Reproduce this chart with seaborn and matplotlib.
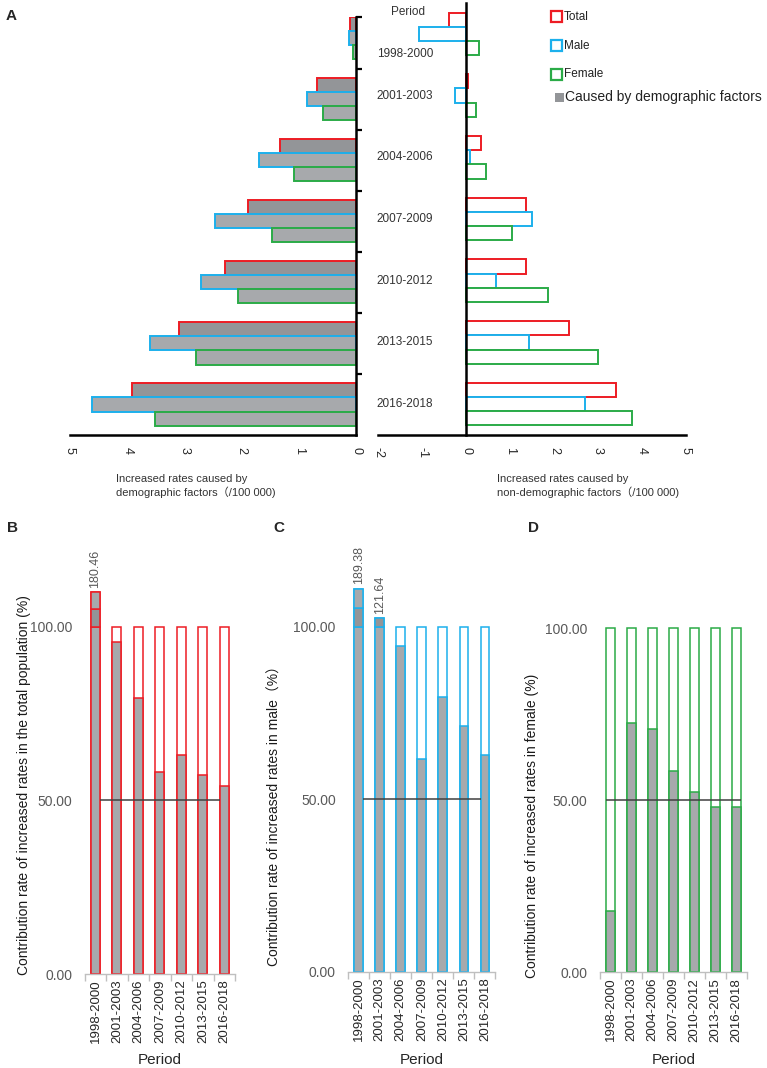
import numpy as np
import pandas as pd
import matplotlib
matplotlib.use('Agg')
import matplotlib.pyplot as plt
import seaborn as sns
from matplotlib.patches import Rectangle

# ---- data ----
periods = ['1998-2000', '2001-2003', '2004-2006', '2007-2009',
           '2010-2012', '2013-2015', '2016-2018']
groups = ['Total', 'Male', 'Female']

# increased rates caused by demographic factors (/100 000)
demo_total = [0.10, 0.69, 1.33, 1.88, 2.29, 3.09, 3.92]
demo_male = [0.13, 0.86, 1.69, 2.46, 2.71, 3.61, 4.61]
demo_female = [0.06, 0.58, 1.08, 1.46, 2.06, 2.80, 3.52]

# increased rates caused by non-demographic factors (/100 000)
nondemo_total = [-0.38, 0.05, 0.35, 1.36, 1.36, 2.35, 3.41]
nondemo_male = [-1.06, -0.24, 0.09, 1.51, 0.68, 1.44, 2.71]
nondemo_female = [0.29, 0.23, 0.45, 1.05, 1.86, 2.99, 3.77]

# contribution rate of demographic factors (%)
contrib_total = [180.46, 95.6, 79.4, 58.3, 63.1, 57.2, 54.1]
contrib_male = [189.38, 121.64, 94.4, 61.8, 79.7, 71.2, 62.9]
contrib_female = [17.9, 72.5, 70.7, 58.6, 52.3, 48.1, 48.1]

# ---- style ----
RED = '#ed1c24'
BLUE = '#1cb0ec'
GREEN = '#2bab47'
DARK_FILL = '#939598'
LIGHT_FILL = '#a7a9ac'
edge_cols = [RED, BLUE, GREEN]

sns.set_theme(style='white')
plt.rcParams['font.family'] = ['Liberation Sans', 'Noto Sans CJK SC', 'DejaVu Sans']
plt.rcParams['axes.unicode_minus'] = False

W, H = 767, 1068
fig = plt.figure(figsize=(W / 100, H / 100), dpi=100)


def px_axes(left, top, right, bottom):
    return fig.add_axes([left / W, 1 - bottom / H, (right - left) / W, (bottom - top) / H])


def long_frame(total, male, female):
    return pd.DataFrame({
        'period': periods * 3,
        'group': np.repeat(groups, len(periods)),
        'value': total + male + female,
    })


def style_edges(ax, lw):
    for cont, col in zip(ax.containers, edge_cols):
        for bar in cont:
            bar.set_edgecolor(col)
            bar.set_linewidth(lw)


# ================= panel A, left: demographic =================
ax_l = px_axes(70, 17, 356, 435)
sns.barplot(data=long_frame(demo_total, demo_male, demo_female),
            x='value', y='period', hue='group', hue_order=groups, order=periods,
            orient='h', width=0.69, saturation=1, errorbar=None, legend=False,
            palette={'Total': DARK_FILL, 'Male': LIGHT_FILL, 'Female': LIGHT_FILL},
            ax=ax_l)
style_edges(ax_l, 1.4)
ax_l.set_xlim(5, 0)
ax_l.set_ylim(6.5, -0.35)
for s in ['left', 'top']:
    ax_l.spines[s].set_visible(False)
for s in ['right', 'bottom']:
    ax_l.spines[s].set_linewidth(1.8)
    ax_l.spines[s].set_color('black')
ax_l.yaxis.tick_right()
ax_l.set_yticks([-0.35] + list(np.arange(len(periods) - 1) + 0.5))
ax_l.set_yticklabels([])
ax_l.tick_params(axis='y', direction='out', length=4, width=1.6, color='black')
ax_l.set_xticks(range(0, 6))
ax_l.tick_params(axis='x', direction='out', length=4, width=1.5, color='black',
                 labelsize=9, labelrotation=270, pad=5)
ax_l.set_xlabel('')
ax_l.set_ylabel('')

# ================= panel A, right: non-demographic =================
ax_r = px_axes(378, 3, 686, 435)
sns.barplot(data=long_frame(nondemo_total, nondemo_male, nondemo_female),
            x='value', y='period', hue='group', hue_order=groups, order=periods,
            orient='h', width=0.69, saturation=1, errorbar=None, legend=False,
            palette={'Total': 'white', 'Male': 'white', 'Female': 'white'},
            ax=ax_r)
style_edges(ax_r, 1.4)
ax_r.set_xlim(-2, 5)
ax_r.set_ylim(6.5, -0.5)
for s in ['right', 'top']:
    ax_r.spines[s].set_visible(False)
ax_r.spines['left'].set_position(('data', 0))
for s in ['left', 'bottom']:
    ax_r.spines[s].set_linewidth(1.8)
    ax_r.spines[s].set_color('black')
ax_r.set_yticks([-0.5] + list(np.arange(len(periods) - 1) + 0.5))
ax_r.set_yticklabels([])
ax_r.tick_params(axis='y', direction='out', length=4, width=1.6, color='black')
ax_r.set_xticks(range(-2, 6))
ax_r.tick_params(axis='x', direction='out', length=4, width=1.5, color='black',
                 labelsize=9, labelrotation=270, pad=5)
ax_r.set_xlabel('')
ax_r.set_ylabel('')

label_pos = np.arange(len(periods)).astype(float)
label_pos[0] += 0.32
for p, y in zip(periods, label_pos):
    ax_r.annotate(p, xy=(0, y), xytext=(-23.5, 0), textcoords='offset points',
                  ha='right', va='center', fontsize=8.5, color='#333333',
                  annotation_clip=False)
ax_r.annotate('Period', xy=(0, -0.36), xytext=(-42, 0), textcoords='offset points',
              ha='center', va='center', fontsize=8.5, color='#333333',
              annotation_clip=False)

# axis titles of panel A
fig.text(116 / W, 1 - 474 / H, 'Increased rates caused by\ndemographic factors（/100 000)',
         ha='left', va='top', fontsize=8, linespacing=1.25, color='#333333')
fig.text(497 / W, 1 - 474 / H, 'Increased rates caused by\nnon-demographic factors（/100 000)',
         ha='left', va='top', fontsize=8, linespacing=1.25, color='#333333')

# legend of panel A
legend_rows = [16.7, 45.7, 74.0]
for lab, col, yc in zip(groups, edge_cols, legend_rows):
    fig.add_artist(Rectangle((551 / W, 1 - (yc + 5.5) / H), 11 / W, 11 / H,
                             transform=fig.transFigure, facecolor='white',
                             edgecolor=col, linewidth=1.6))
    fig.text(564 / W, 1 - yc / H, lab, ha='left', va='center', fontsize=8.5, color='#222222')
fig.add_artist(Rectangle((555 / W, 1 - 102 / H), 8.5 / W, 9 / H,
                         transform=fig.transFigure, facecolor=DARK_FILL, edgecolor='none'))
fig.text(565 / W, 1 - 97.3 / H, 'Caused by demographic factors', ha='left', va='center',
         fontsize=10, color='#222222')

fig.text(6 / W, 1 - 15.5 / H, 'A', ha='left', va='center', fontsize=11, fontweight='bold')

# ================= panels B, C, D: contribution rates =================
BAR_W = 0.42
COMPRESS = 0.125   # scale of the broken part of the axis above 100


def contrib_panel(box, values, edge, ylabel, label_x, label_bottom, line_span, letter_x):
    left, right, bottom, p100 = box
    top = bottom - (bottom - p100) * 1.2
    ax = px_axes(left, top, right, bottom)

    shown = [100 + (v - 100) * COMPRESS if v > 100 else 100 for v in values]
    base = [min(v, 100) for v in values]

    sns.barplot(x=periods, y=shown, color='white', saturation=1, width=BAR_W,
                errorbar=None, ax=ax)
    sns.barplot(x=periods, y=base, color=LIGHT_FILL, saturation=1, width=BAR_W,
                errorbar=None, ax=ax)
    for bar in ax.patches:
        bar.set_edgecolor(edge)
        bar.set_linewidth(1.1)

    # broken bars above 100 %
    for i, (v, s) in enumerate(zip(values, shown)):
        if v <= 100:
            continue
        if v > 150:
            mid = 100 + (s - 100) / 2
            ax.bar(i, mid - 100, bottom=100, width=BAR_W, color=DARK_FILL,
                   edgecolor=edge, linewidth=1.1)
            ax.bar(i, s - mid, bottom=mid, width=BAR_W, color=LIGHT_FILL,
                   edgecolor=edge, linewidth=1.1)
        else:
            ax.bar(i, s - 100, bottom=100, width=BAR_W, color=DARK_FILL,
                   edgecolor=edge, linewidth=1.1)
        ax.annotate(f'{v:.2f}', xy=(i, s), xytext=(0, 3), textcoords='offset points',
                    rotation=90, ha='center', va='bottom', fontsize=9, color='#595959',
                    annotation_clip=False)

    ax.hlines(50, line_span[0], line_span[1], color='#404040', linewidth=1.1, zorder=5)

    ax.set_xlim(-0.5, len(periods) - 0.5)
    ax.set_ylim(0, 120)
    for s in ['left', 'top', 'right']:
        ax.spines[s].set_visible(False)
    ax.spines['bottom'].set_color('#bfbfbf')
    ax.spines['bottom'].set_linewidth(1.0)
    ax.set_yticks([0, 50, 100])
    ax.set_yticklabels([f'{t:.2f}' for t in [0, 50, 100]])
    ax.tick_params(axis='y', length=0, pad=9, labelsize=10, labelcolor='#595959')
    ax.set_xticks(range(len(periods)))
    ax.set_xticks(np.arange(len(periods) + 1) - 0.5, minor=True)
    ax.tick_params(axis='x', which='major', length=0, pad=4, labelsize=9.5,
                   labelrotation=90, labelcolor='#262626')
    ax.tick_params(axis='x', which='minor', bottom=True, length=5, width=1.0,
                   color='#bfbfbf', direction='out')
    ax.set_xlabel('')
    ax.set_ylabel('')

    fig.text((left + right) / 2 / W, 1 - 1060 / H, 'Period', ha='center', va='center',
             fontsize=11, color='#262626')
    fig.text(label_x / W, 1 - label_bottom / H, ylabel, rotation=90, ha='center',
             va='bottom', fontsize=10, color='#1a1a1a')
    fig.text(letter_x / W, 1 - 528 / H, letter_of[edge], ha='left', va='center',
             fontsize=11, fontweight='bold')
    return ax


letter_of = {RED: 'B', BLUE: 'C', GREEN: 'D'}
half = BAR_W / 2
n_last = len(periods) - 1

contrib_panel((84.8, 235.0, 974.0, 626.7), contrib_total, RED,
              'Contribution rate of increased rates in the total population (%)',
              24, 975, (half, n_last - half), 7)
contrib_panel((348.2, 495.5, 971.5, 627.0), contrib_male, BLUE,
              'Contribution rate of increased rates in male（%）',
              275, 966, (half, n_last - half), 273)
contrib_panel((600.0, 747.0, 972.3, 628.3), contrib_female, GREEN,
              'Contribution rate of increased rates in female (%)',
              532, 978, (-half, n_last + half), 528)

fig.savefig('out.png', dpi=100, facecolor='white')
